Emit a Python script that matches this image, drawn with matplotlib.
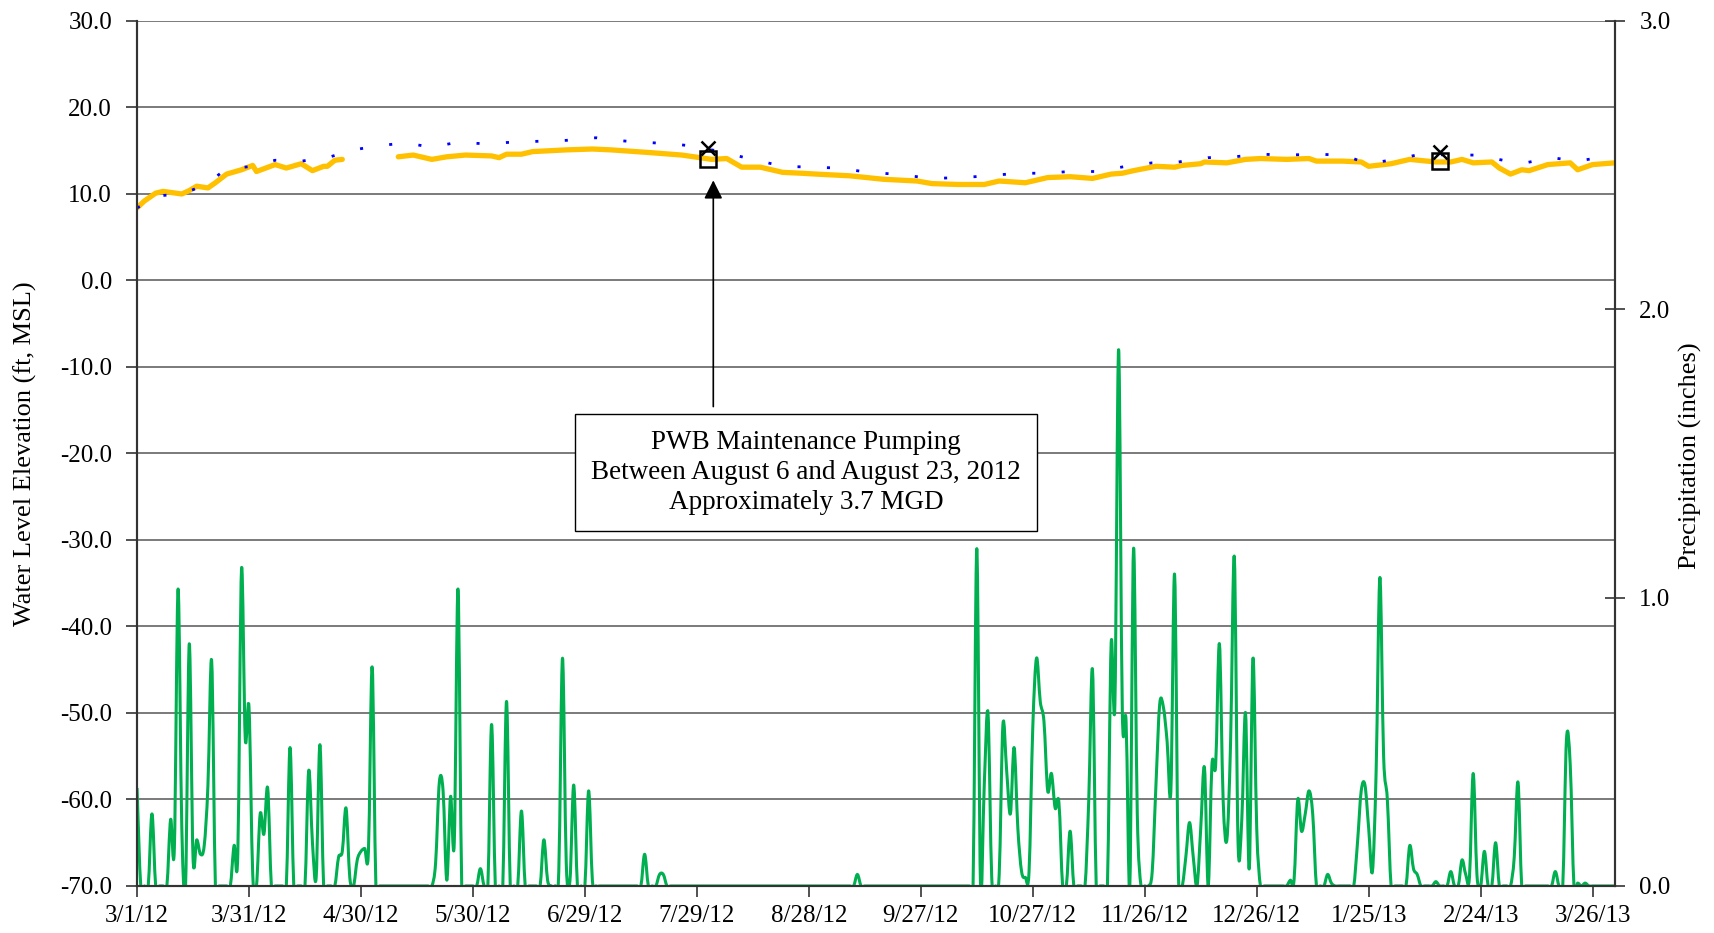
import numpy as np
import pandas as pd
import matplotlib
matplotlib.use('Agg')
import matplotlib.pyplot as plt
import matplotlib.dates as mdates
from matplotlib.path import Path
from matplotlib.patches import PathPatch

plt.rcParams['font.family'] = ['Liberation Serif', 'DejaVu Serif']
plt.rcParams['font.size'] = 18

start = pd.Timestamp('2012-03-01')
n_days = 396

# Water level (ft, MSL), day offsets from 3/1/12; NaN marks the data gap
wl_day = [0, 2, 5, 7, 12, 14, 16, 19, 21, 24, 28, 31, 32, 37, 40, 44, 47, 50, 51, 53, 55,
          62,
          70, 74, 79, 83, 88, 95, 97, 99, 103, 106, 115, 122, 127, 137, 146, 154, 158, 162,
          167, 173, 178, 182, 191, 200, 209, 213, 220, 227, 231, 238, 244, 250, 256, 261,
          264, 267, 273, 278, 280, 285, 286, 292, 297, 301, 308, 314, 316, 323, 328, 330,
          336, 341, 348, 352, 355, 358, 363, 365, 368, 371, 373, 378, 384, 386, 390, 396]
wl_ft = [8.4, 9.2, 10.1, 10.3, 10.0, 10.4, 10.9, 10.7, 11.3, 12.3, 12.8, 13.3, 12.6, 13.4,
         13.0, 13.5, 12.7, 13.2, 13.2, 13.9, 14.0,
         np.nan,
         14.3, 14.5, 14.0, 14.3, 14.5, 14.4, 14.2, 14.6, 14.6, 14.9, 15.1, 15.2, 15.1, 14.8,
         14.5, 14.0, 14.1, 13.1, 13.1, 12.5, 12.4, 12.3, 12.1, 11.7, 11.5, 11.2, 11.1, 11.1,
         11.5, 11.3, 11.9, 12.0, 11.8, 12.3, 12.4, 12.7, 13.2, 13.1, 13.3, 13.5, 13.7, 13.6,
         14.0, 14.1, 14.0, 14.1, 13.8, 13.8, 13.7, 13.2, 13.5, 14.0, 13.7, 13.7, 14.0, 13.6,
         13.7, 13.0, 12.3, 12.8, 12.7, 13.4, 13.6, 12.8, 13.4, 13.6]

# Second water level record (dotted)
wl2_day = [0, 1, 6, 12, 18, 24, 31, 37, 44, 51, 58, 65, 72, 79, 86, 93, 101, 108, 115, 120,
           123, 128, 135, 143, 150, 160, 166, 173, 181, 188, 196, 203, 213, 221, 228, 236,
           243, 250, 257, 265, 272, 279, 287, 294, 301, 308, 316, 323, 330, 337, 344, 352,
           359, 366, 372, 379, 386, 393, 396]
wl2_ft = [8.4, 8.6, 9.8, 10.0, 11.0, 12.9, 13.2, 13.9, 13.8, 14.2, 15.1, 15.6, 15.9, 15.4,
          16.0, 15.8, 16.0, 16.1, 16.2, 16.4, 16.5, 16.2, 16.0, 15.8, 15.5, 14.5, 13.9, 13.2,
          13.1, 13.0, 12.5, 12.3, 11.8, 11.9, 12.1, 12.4, 12.4, 12.6, 12.6, 13.2, 13.6, 13.7,
          14.2, 14.3, 14.6, 14.5, 14.6, 14.5, 13.5, 14.0, 14.6, 14.5, 14.5, 13.9, 13.6, 14.2,
          13.8, 14.3, 14.3]

# Manual measurements
meas_day = [153, 349]
meas_sq_ft = [14.0, 13.8]
meas_x_ft = [15.3, 14.9]

# Daily precipitation (inches), days with rain
rain_day = [0, 4, 9, 10, 11, 12, 14, 15, 16, 17, 18, 19, 20, 26, 27, 28, 29, 30, 31, 33, 34,
            35, 41, 46, 47, 48, 49, 54, 55, 56, 57, 59, 60, 61, 62, 63, 80, 81, 82, 83, 84,
            85, 86, 92, 95, 99, 103, 109, 110, 113, 114, 115, 116, 117, 121, 122, 136, 140,
            141, 193, 225, 227, 228, 229, 231, 232, 233, 234, 235, 236, 237, 238, 239, 240,
            241, 242, 243, 244, 245, 246, 247, 250, 255, 256, 261, 262, 263, 264, 265, 267,
            268, 272, 273, 274, 275, 276, 277, 278, 279, 281, 282, 283, 285, 286, 288, 289,
            290, 291, 292, 293, 294, 295, 296, 297, 298, 299, 300, 309, 310, 311, 312, 313,
            314, 315, 319, 320, 327, 328, 329, 330, 331, 332, 333, 334, 335, 341, 342, 343,
            348, 352, 355, 356, 357, 358, 359, 361, 364, 369, 370, 380, 383, 384, 386, 388]
rain_in = [0.34, 0.25, 0.23, 0.13, 1.03, 0.20, 0.84, 0.10, 0.16, 0.11, 0.14, 0.35, 0.78,
           0.14, 0.11, 1.10, 0.51, 0.62, 0.04, 0.25, 0.18, 0.34, 0.48, 0.40, 0.15, 0.03,
           0.49, 0.10, 0.12, 0.27, 0.03, 0.09, 0.12, 0.13, 0.12, 0.76, 0.08, 0.36, 0.33,
           0.02, 0.31, 0.15, 1.03, 0.06, 0.56, 0.64, 0.26, 0.16, 0.02, 0.05, 0.79, 0.08,
           0.02, 0.35, 0.33, 0.02, 0.11, 0.04, 0.04, 0.04, 1.17, 0.35, 0.60, 0.03, 0.04,
           0.56, 0.40, 0.25, 0.48, 0.20, 0.05, 0.03, 0.05, 0.55, 0.79, 0.64, 0.57, 0.33,
           0.39, 0.27, 0.29, 0.19, 0.30, 0.75, 0.84, 0.63, 1.86, 0.60, 0.57, 1.17, 0.25,
           0.05, 0.35, 0.63, 0.62, 0.50, 0.33, 1.08, 0.05, 0.10, 0.22, 0.10, 0.20, 0.41,
           0.42, 0.42, 0.84, 0.30, 0.16, 0.50, 1.14, 0.15, 0.23, 0.60, 0.06, 0.79, 0.20,
           0.02, 0.02, 0.30, 0.19, 0.25, 0.33, 0.25, 0.04, 0.01, 0.15, 0.33, 0.35, 0.20,
           0.05, 0.40, 1.07, 0.45, 0.30, 0.14, 0.06, 0.04, 0.015, 0.05, 0.09, 0.04, 0.03,
           0.39, 0.04, 0.12, 0.15, 0.10, 0.36, 0.05, 0.51, 0.42, 0.01, 0.01]

note = ('PWB Maintenance Pumping\n'
        'Between August 6 and August 23, 2012\n'
        'Approximately 3.7 MGD')


def to_dates(days):
    return start + pd.to_timedelta(np.asarray(days, dtype=float), unit='D')


def smooth_path(x, y):
    # cubic bezier through every point (catmull-rom style, like a smoothed spreadsheet line)
    p = np.column_stack([x, y])
    pad = np.vstack([p[0], p, p[-1]])
    verts = [p[0]]
    codes = [Path.MOVETO]
    for i in range(1, len(pad) - 2):
        p0, p1, p2, p3 = pad[i - 1], pad[i], pad[i + 1], pad[i + 2]
        verts += [p1 + (p2 - p0) / 6.0, p2 - (p3 - p1) / 6.0, p2]
        codes += [Path.CURVE4] * 3
    return Path(verts, codes)


precip = pd.Series(0.0, index=np.arange(n_days + 1))
precip[rain_day] = rain_in

fig = plt.figure(figsize=(17.15, 9.33), dpi=100)
ax = fig.add_axes([0.0799, 0.0504, 0.8618, 0.9271])
ax2 = ax.twinx()

ax.plot(to_dates(wl_day), wl_ft, color='#FFC000', lw=3.8, solid_capstyle='round',
        solid_joinstyle='round', zorder=3)
ax.plot(to_dates(wl2_day), wl2_ft, color='#0000FF', lw=2.0,
        linestyle=(0, (1.1, 9.5)), zorder=4)
ax.plot(to_dates(meas_day), meas_sq_ft, linestyle='none', marker='s', ms=11,
        mfc='none', mec='black', mew=1.8, zorder=5)
ax.plot(to_dates(meas_day), meas_x_ft, linestyle='none', marker='x', ms=10,
        color='black', mew=1.8, zorder=5)

rain_x = mdates.date2num(to_dates(precip.index))
ax2.add_patch(PathPatch(smooth_path(rain_x, precip.values), fill=False,
                        ec='#00B050', lw=2.2, joinstyle='round'))

# annotation for the pumping event
ax.annotate('', xy=(to_dates([154.4])[0], 11.9), xytext=(to_dates([154.4])[0], -14.9),
            arrowprops=dict(arrowstyle='-|>', color='black', lw=1.2, mutation_scale=28),
            zorder=6)
ax.text(to_dates([179.2])[0], -22.2, note, ha='center', va='center', fontsize=19.5,
        linespacing=1.25, zorder=6,
        bbox=dict(boxstyle='square,pad=0.6', fc='white', ec='black', lw=1.0))

ax.set_ylim(-70, 30)
ax.set_yticks(np.arange(-70, 31, 10))
ax.set_yticklabels([f'{v:.1f}' for v in np.arange(-70, 31, 10)])
ax2.set_ylim(0, 3.0)
ax2.set_yticks([0, 1, 2, 3])
ax2.set_yticklabels(['0.0', '1.0', '2.0', '3.0'])

xticks = pd.date_range(start, periods=14, freq='30D')
ax.set_xlim(start, start + pd.Timedelta(days=n_days))
ax.set_xticks(xticks)
ax.set_xticklabels([f'{d.month}/{d.day}/{d.year % 100}' for d in xticks])

ax.yaxis.grid(True, color='#6f6f6f', lw=1.3)
ax.set_axisbelow(True)

for a in (ax, ax2):
    a.spines['top'].set_visible(False)
    for s in ('left', 'right', 'bottom'):
        a.spines[s].set_color('#333333')
        a.spines[s].set_linewidth(1.5)

ax.tick_params(axis='y', direction='out', length=8, width=1.2, color='#333333', pad=10)
ax.tick_params(axis='x', direction='out', length=8, width=1.2, color='#333333', pad=6)
ax2.tick_params(axis='y', direction='inout', length=15, width=1.2, color='#333333', pad=10)

ax.set_ylabel('Water Level Elevation (ft, MSL)', fontsize=19)
ax.yaxis.set_label_coords(-0.0675, 0.5)
ax2.set_ylabel('Precipitation (inches)', fontsize=19)
ax2.yaxis.set_label_coords(1.0433, 0.498)

fig.savefig('out.png', dpi=100)
